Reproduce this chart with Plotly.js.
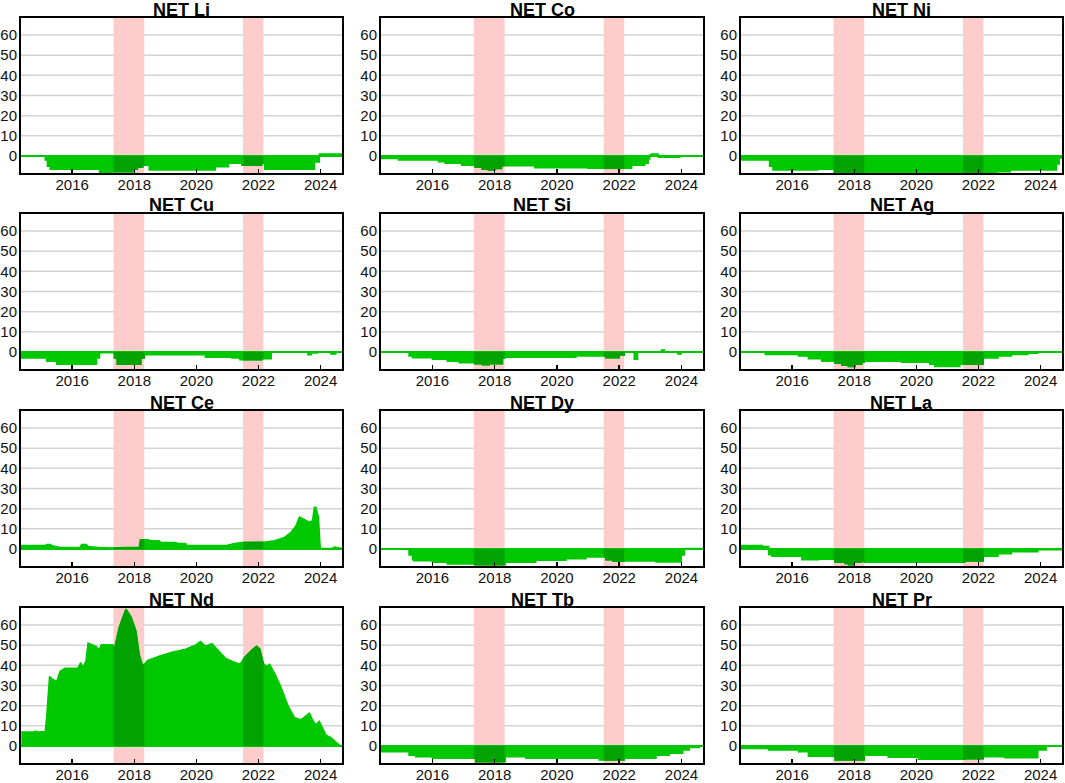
<!DOCTYPE html>
<html><head><meta charset="utf-8">
<script src="https://cdn.plot.ly/plotly-3.0.1.min.js"></script>
<style>html,body{margin:0;padding:0;background:#fff;}#chart{width:1065px;height:783px;}</style>
</head><body><div id="chart"></div>
<script>
// ---- data (decimal year, value) ----
const panelNames = ["NET Li","NET Co","NET Ni","NET Cu","NET Si","NET Ag","NET Ce","NET Dy","NET La","NET Nd","NET Tb","NET Pr"];
const xTicks = [2016, 2018, 2020, 2022, 2024];
const yTicks = [0, 10, 20, 30, 40, 50, 60];
const bands = [[2017.33, 2018.32], [2021.5, 2022.16]];

const LI = [[2014.35,0],[2015.13,-2],[2015.2,-5],[2015.29,-6.5],[2016.88,-8.2],[2017.31,-7.8],[2017.95,-6.5],[2018.1,-5.5],[2018.27,-4.5],[2018.48,-6.9],[2020.61,-5.3],[2021.03,-3.6],[2021.46,-4.5],[2022.1,-3.6],[2022.2,-6.6],[2023.8,-3],[2023.96,1],[2024.69,1]];
const CO = [[2014.34,-1.2],[2014.91,-2],[2016.19,-2.8],[2016.41,-3.6],[2016.94,-4.5],[2017.37,-5.5],[2017.6,-6.5],[2017.8,-6.9],[2018.0,-6.2],[2018.22,-4.8],[2019.29,-5.8],[2021.0,-6.1],[2022.4,-4.5],[2022.82,-3.6],[2022.93,-1.5],[2022.98,0.5],[2023.04,1],[2023.25,-0.6],[2023.95,0],[2024.69,0]];
const NI = [[2014.35,-2],[2015.27,-5],[2015.38,-6.9],[2016.82,-6.6],[2017.36,-9.5],[2022.59,-7.8],[2023.02,-6.9],[2024.51,-4],[2024.6,-1],[2024.67,0],[2024.69,0]];
const CU = [[2014.35,-3],[2015.18,-4.6],[2015.5,-6],[2016.78,-3],[2016.88,-0.3],[2017.36,-3],[2017.45,-6],[2018.21,-3],[2018.32,-1.3],[2020.29,-2.6],[2021.14,-3],[2021.4,-3.8],[2022.1,-3.3],[2022.41,0],[2023.59,-1.3],[2023.7,-0.5],[2023.9,0],[2024.33,-1],[2024.49,0],[2024.69,0]];
const SI = [[2014.35,0],[2015.25,-2],[2015.36,-2.8],[2016.0,-3.6],[2016.48,-4.5],[2016.86,-5.3],[2017.36,-5.8],[2017.61,-6.3],[2017.82,-5.8],[2018.25,-3],[2018.34,-2.6],[2020.61,-2],[2021.57,-2.8],[2022.0,-1.5],[2022.16,0],[2022.48,-3.6],[2022.59,0],[2023.35,1],[2023.45,0],[2023.88,-1],[2023.99,0],[2024.69,0]];
const AG = [[2014.35,0],[2015.13,-1.2],[2016.2,-2],[2016.52,-3.3],[2016.95,-4.5],[2017.38,-5.5],[2017.6,-6.6],[2017.81,-7.2],[2018.02,-6],[2018.24,-5],[2018.32,-4.5],[2019.52,-5],[2020.43,-6],[2020.59,-7.2],[2021.4,-6],[2022.15,-3],[2022.63,-2],[2023.06,-1.2],[2023.59,-0.6],[2023.91,0],[2024.69,0]];
const CE = [[2014.35,1.7],[2015.13,1.7],[2015.18,2.3],[2015.29,2.3],[2015.35,1.7],[2015.61,0.8],[2016.25,0.8],[2016.3,2.2],[2016.46,2.2],[2016.5,1.3],[2016.88,0.8],[2017.31,0.5],[2017.73,0.8],[2018.16,0.8],[2018.2,4.6],[2018.45,4.6],[2018.5,4.1],[2018.8,4.1],[2018.85,3.3],[2019.33,3.3],[2019.4,2.8],[2019.65,2.8],[2019.7,1.7],[2020.3,1.7],[2020.93,1.7],[2021.2,2.6],[2021.46,3.3],[2022.1,3.3],[2022.52,4.1],[2022.84,5.8],[2023.05,8.3],[2023.21,11.6],[2023.32,15.8],[2023.64,13.3],[2023.74,14],[2023.8,20.7],[2023.85,20.5],[2023.93,15.8],[2023.99,0.3],[2024.38,0.3],[2024.45,1],[2024.69,0.3]];
const DY = [[2014.35,0],[2015.25,-3],[2015.36,-5.3],[2015.4,-5.8],[2016.0,-6.6],[2016.48,-7.4],[2017.36,-7.8],[2018.34,-6.6],[2019.32,-5.6],[2020.29,-4.8],[2020.93,-4],[2021.57,-5.3],[2021.79,-6],[2022.16,-5.9],[2023.18,-6.4],[2023.99,-3],[2024.09,0.3],[2024.69,0.3]];
const LA = [[2014.35,1.8],[2015.03,1.3],[2015.24,-2.8],[2015.35,-3.6],[2016.31,-5.3],[2016.85,-5],[2017.38,-6.6],[2017.7,-7.2],[2017.81,-7.8],[2017.97,-6.5],[2018.24,-6],[2018.32,-6.6],[2021.56,-5.9],[2022.15,-3.6],[2022.63,-2.3],[2023.06,-1.3],[2023.91,-0.3],[2024.69,-0.3]];
const ND = [[2014.36,6.9],[2014.76,6.9],[2014.81,7.4],[2014.91,7.0],[2015.13,7.2],[2015.18,15],[2015.27,34.5],[2015.37,33],[2015.5,32],[2015.61,37],[2015.77,38.5],[2016.19,38.6],[2016.27,41.4],[2016.35,39],[2016.44,42],[2016.51,51],[2016.78,49.3],[2016.86,47.5],[2016.94,50.2],[2017.31,50.2],[2017.36,48],[2017.52,59],[2017.73,67.8],[2017.89,64],[2018.05,57],[2018.16,45],[2018.27,39.5],[2018.43,42.5],[2018.8,44.5],[2019.22,46.5],[2019.65,48],[2019.97,50],[2020.13,51.8],[2020.29,49.5],[2020.5,50.8],[2020.71,47.5],[2020.93,43.6],[2021.14,42],[2021.4,40.5],[2021.56,44],[2021.78,47.5],[2021.94,49.5],[2022.04,48],[2022.15,41],[2022.26,39.5],[2022.36,40.5],[2022.52,36],[2022.73,29],[2022.95,20],[2023.16,14],[2023.37,13],[2023.53,15],[2023.64,16.3],[2023.74,13],[2023.85,10.5],[2023.96,12.3],[2024.06,9],[2024.17,5.5],[2024.33,4.2],[2024.49,2],[2024.62,0.3]];
const TB = [[2014.35,-2.8],[2015.25,-4.5],[2015.46,-5.3],[2016.0,-6.1],[2017.39,-7.8],[2018.34,-5.3],[2019.0,-6.1],[2021.36,-6.9],[2022.16,-6.1],[2023.18,-4.5],[2023.61,-3.6],[2024.04,-2],[2024.25,-0.7],[2024.57,0],[2024.69,0]];
const PR = [[2014.35,-1.2],[2015.24,-2],[2016.2,-2.8],[2016.52,-5],[2017.38,-6.9],[2018.32,-4.5],[2019.09,-5.6],[2020.06,-6.6],[2021.56,-6.3],[2022.15,-5.3],[2022.84,-5.8],[2023.91,-2],[2024.18,0],[2024.69,0]];

const seriesList = [LI, CO, NI, CU, SI, AG, CE, DY, LA, ND, TB, PR];
const shapesByPanel = ["hv","hv","hv","hv","hv","hv","linear","hv","hv","linear","hv","hv"];

// ---- styling ----
const GREEN = "#00c800", DARK = "#00a300", PINK = "rgb(255,204,204)", GRID = "#d3d3d3";
const W = 1065, H = 783;
const colPx = [[21, 342], [381, 703], [741, 1062]];
const rowPx = [[18, 173], [214, 369], [411, 566], [608, 763]];
const FONT = "Liberation Sans, Arial, sans-serif";

function valueAt(pts, t, shape) {
  if (t <= pts[0][0]) return pts[0][1];
  for (let i = 1; i < pts.length; i++) {
    if (pts[i][0] > t) {
      if (shape === "hv") return pts[i-1][1];
      const [x0,y0] = pts[i-1], [x1,y1] = pts[i];
      return y0 + (y1 - y0) * (t - x0) / (x1 - x0);
    }
  }
  return pts[pts.length-1][1];
}
function clipPts(pts, a, b, shape) {
  const out = [[a, valueAt(pts, a, shape)]];
  pts.forEach(p => { if (p[0] > a && p[0] < b) out.push(p); });
  out.push([b, valueAt(pts, b, shape)]);
  return out;
}

const data = [], layout = {
  width: W, height: H, margin: {l:0, r:0, t:0, b:0},
  paper_bgcolor: "#fff", plot_bgcolor: "#fff", showlegend: false,
  font: {family: FONT, color: "#111", size: 15},
  shapes: [], annotations: []
};

seriesList.forEach((pts, i) => {
  const n = i + 1, r = Math.floor(i / 3), c = i % 3;
  const xa = "x" + (n === 1 ? "" : n), ya = "y" + (n === 1 ? "" : n);
  const shape = shapesByPanel[i];
  data.push({x: pts.map(p => p[0]), y: pts.map(p => p[1]), xaxis: xa, yaxis: ya,
    type: "scatter", mode: "lines", line: {color: GREEN, width: 1.5, shape: shape},
    fill: "tozeroy", fillcolor: GREEN, hoverinfo: "skip"});
  // gridlines as shapes so the pink bands can cover them
  yTicks.filter(v => v !== 0).forEach(v => {
    layout.shapes.push({type: "line", xref: xa + " domain", yref: ya, x0: 0, x1: 1, y0: v, y1: v,
      line: {color: GRID, width: 1.5}, layer: "below"});
  });
  bands.forEach(bd => {
    const cp = clipPts(pts, bd[0], bd[1], shape);
    data.push({x: cp.map(p => p[0]), y: cp.map(p => p[1]), xaxis: xa, yaxis: ya,
      type: "scatter", mode: "lines", line: {color: DARK, width: 1.5, shape: shape},
      fill: "tozeroy", fillcolor: DARK, hoverinfo: "skip"});
    layout.shapes.push({type: "rect", xref: xa, yref: ya + " domain", x0: bd[0], x1: bd[1], y0: 0, y1: 1,
      fillcolor: PINK, line: {width: 0}, layer: "below"});
  });
  const xd = [colPx[c][0] / W, colPx[c][1] / W];
  const yd = [1 - rowPx[r][1] / H, 1 - rowPx[r][0] / H];
  layout["xaxis" + (n === 1 ? "" : n)] = {
    domain: xd, anchor: ya, range: [2014.35, 2024.69], tickvals: xTicks, ticktext: xTicks.map(String),
    ticks: "inside", ticklen: 4, tickwidth: 1.5, tickcolor: "#000", showgrid: false, zeroline: false,
    showline: true, mirror: true, linecolor: "#000", linewidth: 2, ticklabelstandoff: -3,
    tickfont: {size: 15, color: "#111", family: FONT}, fixedrange: true
  };
  layout["yaxis" + (n === 1 ? "" : n)] = {
    domain: yd, anchor: xa, range: [-8.4, 68.4], tickvals: yTicks, ticktext: yTicks.map(String),
    ticks: "", showgrid: false,
    zeroline: true, zerolinecolor: GREEN, zerolinewidth: 2.5,
    showline: true, mirror: true, linecolor: "#000", linewidth: 2, ticklabelstandoff: -1,
    tickfont: {size: 15, color: "#111", family: FONT}, fixedrange: true
  };
  layout.annotations.push({text: "<b>" + panelNames[i] + "</b>", xref: "paper", yref: "paper",
    x: (xd[0] + xd[1]) / 2, y: 1 - (rowPx[r][0] + 2.5) / H, xanchor: "center", yanchor: "bottom",
    borderpad: 0, showarrow: false, font: {family: FONT, size: 18, color: "#000"}});
});

Plotly.newPlot("chart", data, layout, {staticPlot: true, displayModeBar: false});
</script></body></html>
